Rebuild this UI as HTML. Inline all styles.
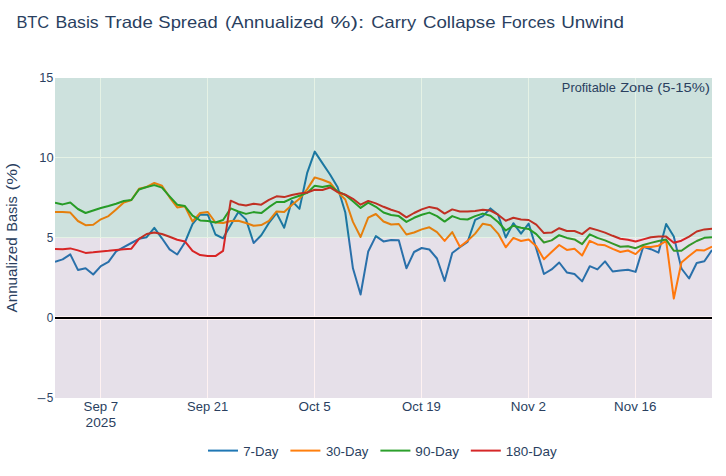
<!DOCTYPE html>
<html><head><meta charset="utf-8"><style>html,body{margin:0;padding:0;background:#fff;width:726px;height:476px;overflow:hidden}</style></head>
<body>
<svg width="726" height="476" viewBox="0 0 726 476" style="display:block;font-family:'Liberation Sans', sans-serif">
<rect x="0" y="0" width="726" height="476" fill="#ffffff"/>
<rect x="55" y="78" width="657" height="320" fill="#E5ECF6"/>
<line x1="100.5" y1="78" x2="100.5" y2="398" stroke="#ffffff" stroke-width="1"/>
<line x1="207.5" y1="78" x2="207.5" y2="398" stroke="#ffffff" stroke-width="1"/>
<line x1="314.5" y1="78" x2="314.5" y2="398" stroke="#ffffff" stroke-width="1"/>
<line x1="421.5" y1="78" x2="421.5" y2="398" stroke="#ffffff" stroke-width="1"/>
<line x1="528.5" y1="78" x2="528.5" y2="398" stroke="#ffffff" stroke-width="1"/>
<line x1="635.5" y1="78" x2="635.5" y2="398" stroke="#ffffff" stroke-width="1"/>
<line x1="55" y1="157.5" x2="712" y2="157.5" stroke="#ffffff" stroke-width="1"/>
<line x1="55" y1="237.5" x2="712" y2="237.5" stroke="#ffffff" stroke-width="1"/>
<line x1="55" y1="318" x2="712" y2="318" stroke="#ffffff" stroke-width="4"/>
<g clip-path="url(#clip)"><defs><clipPath id="clip"><rect x="55" y="78" width="657" height="320"/></clipPath></defs>
<polyline fill="none" stroke="#1f77b4" stroke-width="2" stroke-linejoin="round" points="55.00,261.90 62.64,259.40 70.28,254.40 77.92,269.90 85.56,268.20 93.20,274.50 100.84,266.10 108.48,261.90 116.12,251.40 123.76,247.20 131.39,243.00 139.03,238.80 146.67,237.20 154.31,227.80 161.95,238.30 169.59,249.40 177.23,254.50 184.87,242.50 192.51,224.20 200.15,214.70 207.79,214.70 215.43,234.50 223.07,238.30 230.71,225.00 238.35,212.10 245.99,219.40 253.63,243.00 261.27,235.30 268.91,223.00 276.55,213.10 284.19,227.80 291.82,200.90 299.46,208.90 307.10,173.20 314.74,151.60 322.38,163.10 330.02,174.50 337.66,187.30 345.30,212.50 352.94,268.30 360.58,294.50 368.22,251.50 375.86,236.10 383.50,241.40 391.14,239.90 398.78,240.30 406.42,268.30 414.06,252.00 421.70,248.00 429.34,249.50 436.98,258.50 444.61,281.00 452.25,253.00 459.89,247.20 467.53,242.00 475.17,219.90 482.81,216.10 490.45,208.40 498.09,214.70 505.73,237.50 513.37,223.20 521.01,233.70 528.65,223.60 536.29,248.80 543.93,274.00 551.57,269.40 559.21,262.50 566.85,272.40 574.49,274.00 582.13,281.40 589.76,266.20 597.40,269.40 605.04,261.40 612.68,271.50 620.32,270.50 627.96,269.80 635.60,271.90 643.24,246.70 650.88,249.20 658.52,252.60 666.16,224.00 673.80,236.50 681.44,268.50 689.08,278.50 696.72,263.00 704.36,261.30 712.00,250.00"/>
<polyline fill="none" stroke="#ff7f0e" stroke-width="2" stroke-linejoin="round" points="55.00,211.90 62.64,212.10 70.28,212.60 77.92,221.00 85.56,225.20 93.20,224.70 100.84,219.30 108.48,216.10 116.12,209.40 123.76,202.50 131.39,200.00 139.03,188.80 146.67,187.00 154.31,183.00 161.95,185.80 169.59,197.30 177.23,207.40 184.87,206.30 192.51,221.50 200.15,213.00 207.79,212.00 215.43,222.50 223.07,223.00 230.71,221.00 238.35,220.70 245.99,223.00 253.63,225.70 261.27,225.10 268.91,220.90 276.55,211.40 284.19,212.10 291.82,205.10 299.46,198.80 307.10,189.40 314.74,177.40 322.38,179.70 330.02,182.70 337.66,192.10 345.30,199.50 352.94,221.90 360.58,237.00 368.22,217.70 375.86,214.00 383.50,221.50 391.14,224.50 398.78,224.00 406.42,234.50 414.06,232.50 421.70,229.40 429.34,227.30 436.98,232.10 444.61,240.90 452.25,232.10 459.89,246.80 467.53,240.90 475.17,233.60 482.81,223.70 490.45,225.20 498.09,233.60 505.73,247.30 513.37,237.90 521.01,241.00 528.65,239.40 536.29,246.30 543.93,259.30 551.57,252.00 559.21,245.00 566.85,249.90 574.49,248.80 582.13,255.50 589.76,240.80 597.40,244.40 605.04,245.30 612.68,248.80 620.32,252.00 627.96,250.50 635.60,254.10 643.24,246.70 650.88,247.10 658.52,245.70 666.16,240.80 673.80,298.50 681.44,262.50 689.08,256.00 696.72,250.00 704.36,250.40 712.00,246.60"/>
<polyline fill="none" stroke="#2ca02c" stroke-width="2" stroke-linejoin="round" points="55.00,202.70 62.64,204.40 70.28,202.50 77.92,209.00 85.56,213.00 93.20,210.50 100.84,208.00 108.48,206.00 116.12,203.70 123.76,201.00 131.39,200.00 139.03,189.50 146.67,187.00 154.31,185.10 161.95,187.60 169.59,196.30 177.23,204.70 184.87,206.10 192.51,215.60 200.15,220.40 207.79,221.00 215.43,222.50 223.07,220.00 230.71,208.40 238.35,211.50 245.99,213.90 253.63,212.10 261.27,213.10 268.91,207.20 276.55,202.00 284.19,202.00 291.82,198.40 299.46,195.70 307.10,192.90 314.74,185.80 322.38,187.00 330.02,185.50 337.66,191.50 345.30,195.00 352.94,201.30 360.58,207.90 368.22,202.60 375.86,206.80 383.50,212.50 391.14,215.00 398.78,216.10 406.42,221.90 414.06,217.80 421.70,214.70 429.34,212.60 436.98,216.10 444.61,221.60 452.25,216.10 459.89,218.90 467.53,219.50 475.17,216.10 482.81,213.60 490.45,215.70 498.09,222.00 505.73,230.50 513.37,225.70 521.01,227.80 528.65,228.90 536.29,234.10 543.93,242.50 551.57,240.40 559.21,235.20 566.85,237.90 574.49,239.40 582.13,244.20 589.76,234.30 597.40,237.90 605.04,240.40 612.68,243.60 620.32,246.70 627.96,246.30 635.60,248.20 643.24,245.00 650.88,242.90 658.52,241.00 666.16,239.60 673.80,250.80 681.44,250.80 689.08,245.40 696.72,241.00 704.36,237.80 712.00,237.20"/>
<polyline fill="none" stroke="#d62728" stroke-width="2" stroke-linejoin="round" points="55.00,248.90 62.64,249.30 70.28,248.40 77.92,250.40 85.56,252.90 93.20,252.30 100.84,251.40 108.48,250.80 116.12,250.00 123.76,249.30 131.39,248.70 139.03,238.80 146.67,234.00 154.31,232.60 161.95,234.00 169.59,236.80 177.23,239.70 184.87,241.40 192.51,250.90 200.15,255.10 207.79,256.10 215.43,256.10 223.07,250.90 230.71,200.70 238.35,204.20 245.99,205.50 253.63,203.70 261.27,204.70 268.91,199.90 276.55,196.30 284.19,197.10 291.82,195.00 299.46,193.60 307.10,192.50 314.74,189.80 322.38,190.00 330.02,187.50 337.66,192.10 345.30,194.60 352.94,198.80 360.58,204.70 368.22,200.90 375.86,203.40 383.50,206.80 391.14,209.70 398.78,212.10 406.42,217.30 414.06,213.00 421.70,209.40 429.34,206.90 436.98,208.40 444.61,213.60 452.25,209.40 459.89,211.50 467.53,211.50 475.17,211.10 482.81,209.80 490.45,210.50 498.09,214.70 505.73,220.70 513.37,217.70 521.01,219.40 528.65,220.00 536.29,224.70 543.93,233.10 551.57,232.60 559.21,228.20 566.85,231.00 574.49,231.00 582.13,234.10 589.76,228.00 597.40,230.10 605.04,232.60 612.68,235.80 620.32,238.70 627.96,239.80 635.60,241.50 643.24,239.40 650.88,237.30 658.52,236.60 666.16,236.60 673.80,242.70 681.44,240.70 689.08,236.60 696.72,231.50 704.36,229.40 712.00,228.80"/>
</g>
<rect x="55" y="78" width="657" height="160" fill="rgb(0,128,0)" fill-opacity="0.1"/>
<rect x="55" y="238" width="657" height="160" fill="rgb(255,0,0)" fill-opacity="0.05"/>
<line x1="55" y1="318" x2="712" y2="318" stroke="#000000" stroke-width="2"/>
<text x="16.39" y="28.20" font-size="16.5" fill="#2a3f5f" textLength="32.77" lengthAdjust="spacingAndGlyphs">BTC</text>
<text x="55.49" y="28.20" font-size="16.5" fill="#2a3f5f" textLength="43.24" lengthAdjust="spacingAndGlyphs">Basis</text>
<text x="104.83" y="28.20" font-size="16.5" fill="#2a3f5f" textLength="48.01" lengthAdjust="spacingAndGlyphs">Trade</text>
<text x="158.37" y="28.20" font-size="16.5" fill="#2a3f5f" textLength="59.32" lengthAdjust="spacingAndGlyphs">Spread</text>
<text x="225.08" y="28.20" font-size="16.5" fill="#2a3f5f" textLength="98.56" lengthAdjust="spacingAndGlyphs">(Annualized</text>
<text x="330.52" y="28.20" font-size="16.5" fill="#2a3f5f" textLength="33.60" lengthAdjust="spacingAndGlyphs">%):</text>
<text x="371.39" y="28.20" font-size="16.5" fill="#2a3f5f" textLength="44.69" lengthAdjust="spacingAndGlyphs">Carry</text>
<text x="423.07" y="28.20" font-size="16.5" fill="#2a3f5f" textLength="72.49" lengthAdjust="spacingAndGlyphs">Collapse</text>
<text x="501.40" y="28.20" font-size="16.5" fill="#2a3f5f" textLength="53.53" lengthAdjust="spacingAndGlyphs">Forces</text>
<text x="561.19" y="28.20" font-size="16.5" fill="#2a3f5f" textLength="62.73" lengthAdjust="spacingAndGlyphs">Unwind</text>
<text x="39.25" y="82.10" font-size="12.4" fill="#2a3f5f" textLength="14.09" lengthAdjust="spacingAndGlyphs">15</text>
<text x="39.23" y="162.10" font-size="12.4" fill="#2a3f5f" textLength="14.35" lengthAdjust="spacingAndGlyphs">10</text>
<text x="46.73" y="242.10" font-size="12.4" fill="#2a3f5f" textLength="6.56" lengthAdjust="spacingAndGlyphs">5</text>
<text x="46.73" y="322.10" font-size="12.4" fill="#2a3f5f" textLength="6.56" lengthAdjust="spacingAndGlyphs">0</text>
<text x="46.73" y="402.10" font-size="12.4" fill="#2a3f5f" textLength="6.56" lengthAdjust="spacingAndGlyphs">5</text>
<text x="36.50" y="403.10" font-size="12.4" fill="#2a3f5f" textLength="9.39" lengthAdjust="spacingAndGlyphs">−</text>
<text x="83.60" y="410.90" font-size="12.4" fill="#2a3f5f" textLength="34.64" lengthAdjust="spacingAndGlyphs">Sep 7</text>
<text x="187.12" y="410.90" font-size="12.4" fill="#2a3f5f" textLength="41.02" lengthAdjust="spacingAndGlyphs">Sep 21</text>
<text x="298.59" y="410.90" font-size="12.4" fill="#2a3f5f" textLength="32.14" lengthAdjust="spacingAndGlyphs">Oct 5</text>
<text x="402.11" y="410.90" font-size="12.4" fill="#2a3f5f" textLength="38.69" lengthAdjust="spacingAndGlyphs">Oct 19</text>
<text x="510.82" y="410.90" font-size="12.4" fill="#2a3f5f" textLength="35.18" lengthAdjust="spacingAndGlyphs">Nov 2</text>
<text x="614.13" y="410.90" font-size="12.4" fill="#2a3f5f" textLength="42.35" lengthAdjust="spacingAndGlyphs">Nov 16</text>
<text x="85.62" y="426.90" font-size="12.4" fill="#2a3f5f" textLength="30.43" lengthAdjust="spacingAndGlyphs">2025</text>
<text transform="rotate(-90)" x="-312.48" y="17.10" font-size="14.0" fill="#2a3f5f" textLength="75.24" lengthAdjust="spacingAndGlyphs">Annualized</text>
<text transform="rotate(-90)" x="-231.66" y="17.10" font-size="14.0" fill="#2a3f5f" textLength="35.47" lengthAdjust="spacingAndGlyphs">Basis</text>
<text transform="rotate(-90)" x="-190.57" y="17.10" font-size="14.0" fill="#2a3f5f" textLength="27.64" lengthAdjust="spacingAndGlyphs">(%)</text>
<text x="561.88" y="92.30" font-size="12.2" fill="#2a3f5f" textLength="53.89" lengthAdjust="spacingAndGlyphs">Profitable</text>
<text x="620.16" y="92.30" font-size="12.2" fill="#2a3f5f" textLength="33.18" lengthAdjust="spacingAndGlyphs">Zone</text>
<text x="657.31" y="92.30" font-size="12.2" fill="#2a3f5f" textLength="52.60" lengthAdjust="spacingAndGlyphs">(5-15%)</text>
<line x1="208" y1="450.6" x2="238" y2="450.6" stroke="#1f77b4" stroke-width="2"/>
<text x="243.24" y="455.70" font-size="12.4" fill="#2a3f5f" textLength="35.19" lengthAdjust="spacingAndGlyphs">7-Day</text>
<line x1="290.4" y1="450.6" x2="320.4" y2="450.6" stroke="#ff7f0e" stroke-width="2"/>
<text x="325.97" y="455.70" font-size="12.4" fill="#2a3f5f" textLength="42.37" lengthAdjust="spacingAndGlyphs">30-Day</text>
<line x1="380.4" y1="450.6" x2="410.4" y2="450.6" stroke="#2ca02c" stroke-width="2"/>
<text x="415.39" y="455.70" font-size="12.4" fill="#2a3f5f" textLength="43.56" lengthAdjust="spacingAndGlyphs">90-Day</text>
<line x1="470.8" y1="450.6" x2="500.8" y2="450.6" stroke="#d62728" stroke-width="2"/>
<text x="505.89" y="455.70" font-size="12.4" fill="#2a3f5f" textLength="50.87" lengthAdjust="spacingAndGlyphs">180-Day</text>
</svg>
</body></html>
